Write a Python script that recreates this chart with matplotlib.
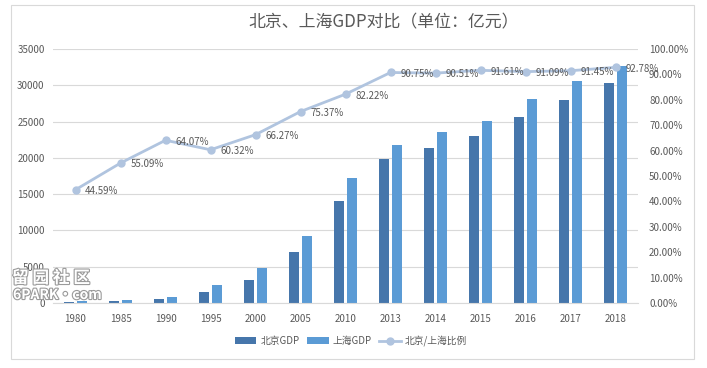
"""Beijing vs Shanghai GDP, bars on left axis, ratio line on right axis."""
import matplotlib
matplotlib.use("Agg")
import matplotlib.pyplot as plt
import matplotlib.patheffects as pe
import numpy as np
from matplotlib.patches import Rectangle
from matplotlib.ticker import FuncFormatter

plt.rcParams["font.family"] = ["Noto Sans CJK SC", "DejaVu Sans"]

YEARS = ["1980", "1985", "1990", "1995", "2000", "2005", "2010",
         "2013", "2014", "2015", "2016", "2017", "2018"]
BEIJING = [139, 257, 501, 1508, 3162, 6970, 14114,
           19801, 21331, 23015, 25669, 28015, 30320]
SHANGHAI = [312, 467, 782, 2499, 4771, 9248, 17166,
            21818, 23568, 25123, 28179, 30633, 32680]
RATIO = [44.59, 55.09, 64.07, 60.32, 66.27, 75.37, 82.22,
         90.75, 90.51, 91.61, 91.09, 91.45, 92.78]

TITLE = "北京、上海GDP对比（单位：亿元）"
LABELS = ["北京GDP", "上海GDP", "北京/上海比例"]

C_BJ = "#4676ab"
C_SH = "#5b9bd5"
C_LINE = "#b0c4df"
C_TXT = "#595959"
C_GRID = "#d9d9d9"

fig = plt.figure(figsize=(7.07, 3.68), dpi=100)
# outer chart border
fig.patches.append(Rectangle((11 / 707, 1 - 359 / 368), 683 / 707, 354 / 368,
                             transform=fig.transFigure, fill=False,
                             edgecolor="#d9d9d9", lw=0.8))

ax = fig.add_axes([53 / 707, 1 - 303 / 368, 585 / 707, 254 / 368])
x = np.arange(len(YEARS))
w = 0.22
ax.bar(x - w / 2 - 0.03, BEIJING, w, color=C_BJ, label=LABELS[0], zorder=2)
ax.bar(x + w / 2 + 0.03, SHANGHAI, w, color=C_SH, label=LABELS[1], zorder=2)
ax.set_xlim(-0.5, len(YEARS) - 0.5)
ax.set_ylim(0, 35000)
ax.set_yticks(range(0, 35001, 5000))
ax.set_xticks(x, YEARS)
ax.grid(axis="y", color=C_GRID, lw=0.8, zorder=0)
for s in ax.spines.values():
    s.set_visible(False)
ax.spines["bottom"].set_visible(True)
ax.spines["bottom"].set_color(C_GRID)
ax.tick_params(length=0, labelsize=7, labelcolor=C_TXT)
ax.tick_params(axis="x", pad=8)
ax.tick_params(axis="y", pad=6)

ax2 = ax.twinx()
ax2.plot(x, RATIO, color=C_LINE, lw=2.0, marker="o", ms=5,
         label=LABELS[2], zorder=3)
ax2.set_ylim(0, 100)
ax2.set_yticks(range(0, 101, 10))
ax2.yaxis.set_major_formatter(FuncFormatter(lambda v, p: f"{v:.2f}%"))
for s in ax2.spines.values():
    s.set_visible(False)
ax2.tick_params(length=0, labelsize=7, labelcolor=C_TXT, pad=8)
for xi, r in zip(x, RATIO):
    ax2.annotate(f"{r:.2f}%", (xi, r), xytext=(7, -1), textcoords="offset points",
                 ha="left", va="center", fontsize=7, color=C_TXT)

fig.text(384 / 707, 1 - 22 / 368, TITLE, ha="center", va="center",
         fontsize=12.2, color=C_TXT)

h1, l1 = ax.get_legend_handles_labels()
h2, l2 = ax2.get_legend_handles_labels()
fig.legend(h1 + h2, l1 + l2, loc="center", bbox_to_anchor=(351 / 707, 1 - 341 / 368),
           ncol=3, frameon=False, fontsize=7, labelcolor=C_TXT,
           handlelength=2.2, handleheight=0.6, columnspacing=0.8, handletextpad=0.4)

# site watermark: white glyphs with grey outline
halo = [pe.withStroke(linewidth=1.6, foreground="#9a9a9a")]
fig.text(12 / 707, 1 - 278 / 368, "留 园 社 区", fontsize=12, color="white",
         fontweight="bold", va="center", ha="left", path_effects=halo, zorder=5)
fig.text(13 / 707, 1 - 295 / 368, "6PARK·com", fontsize=10, color="white",
         fontweight="bold", va="center", ha="left", path_effects=halo, zorder=5)

fig.savefig("out.png", dpi=100)
